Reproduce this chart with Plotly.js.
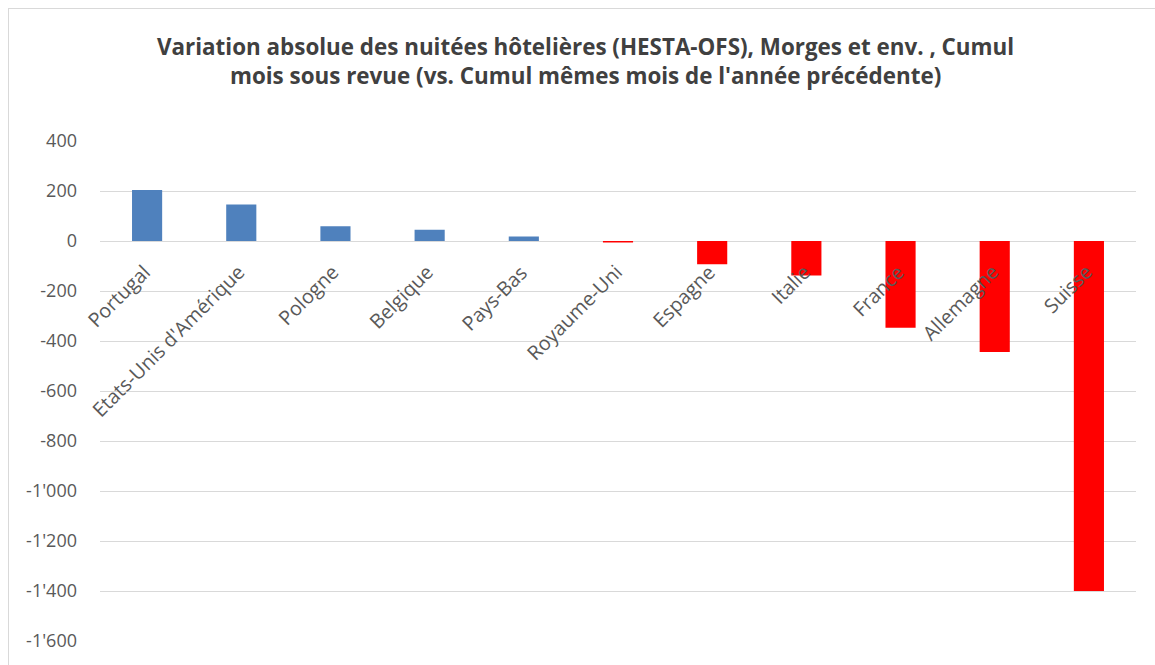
<!DOCTYPE html>
<html>
<head>
<meta charset="utf-8">
<script src="https://cdn.plot.ly/plotly-3.0.1.min.js"></script>
<style>
  html, body { margin: 0; padding: 0; background: #fff; }
  #chart { position: absolute; left: 0; top: 0; width: 1155px; height: 665px; }
  #frame { position: absolute; left: 8px; top: 8px; width: 1160px; height: 670px; border: 1px solid #D9D9D9; box-sizing: border-box; z-index: 10; pointer-events: none; }
</style>
</head>
<body>
<div id="chart"></div>
<div id="frame"></div>
<script>
const countries = ["Portugal", "Etats-Unis d'Amérique", "Pologne", "Belgique", "Pays-Bas", "Royaume-Uni", "Espagne", "Italie", "France", "Allemagne", "Suisse"];
const variation = [204, 146, 59, 45, 18, -6, -93, -138, -347, -444, -1400];
const yTicks = [400, 200, 0, -200, -400, -600, -800, -1000, -1200, -1400, -1600];

const colors = variation.map(v => v >= 0 ? '#4F81BD' : '#FF0000');
const fmt = v => (v < 0 ? '-' : '') + String(Math.abs(v)).replace(/\B(?=(\d{3})+(?!\d))/g, "'");

const trace = {
  type: 'bar',
  x: countries,
  y: variation,
  marker: { color: colors },
  hoverinfo: 'x+y'
};

const annotations = countries.map(c => ({
  x: c, y: 0, xref: 'x', yref: 'y',
  text: c, showarrow: false, textangle: -45,
  xanchor: 'right', yanchor: 'top',
  xshift: 12, yshift: -15,
  font: { family: 'Open Sans, sans-serif', size: 19.8, color: '#595959' }
}));

const layout = {
  width: 1155, height: 665,
  margin: { l: 100, r: 19, t: 141, b: 24 },
  paper_bgcolor: 'rgba(0,0,0,0)',
  plot_bgcolor: 'rgba(0,0,0,0)',
  showlegend: false,
  bargap: 0.68,
  title: {
    text: "Variation absolue des nuitées hôtelières (HESTA-OFS), Morges et env. , Cumul<br>mois sous revue (vs. Cumul mêmes mois de l'année précédente)",
    font: { family: 'Open Sans, sans-serif', size: 22.4, color: '#404040', weight: 'bold' },
    x: 0.507, xanchor: 'center', y: 0.918, yanchor: 'middle'
  },
  xaxis: {
    range: [-0.5, countries.length - 0.5],
    autorange: false,
    showticklabels: false, showgrid: false, zeroline: false,
    showline: false, ticks: '', automargin: false
  },
  yaxis: {
    range: [-1600, 400],
    autorange: false,
    tickvals: yTicks,
    ticktext: yTicks.map(fmt),
    automargin: false,
    showgrid: true, gridcolor: '#D9D9D9', gridwidth: 1,
    zeroline: true, zerolinecolor: '#D9D9D9', zerolinewidth: 1,
    showline: false, ticks: '',
    ticklabelstandoff: 22,
    tickfont: { family: 'Open Sans, sans-serif', size: 18, color: '#595959' }
  },
  annotations: annotations
};

Plotly.newPlot('chart', [trace], layout, { displayModeBar: false, staticPlot: true });
</script>
</body>
</html>
